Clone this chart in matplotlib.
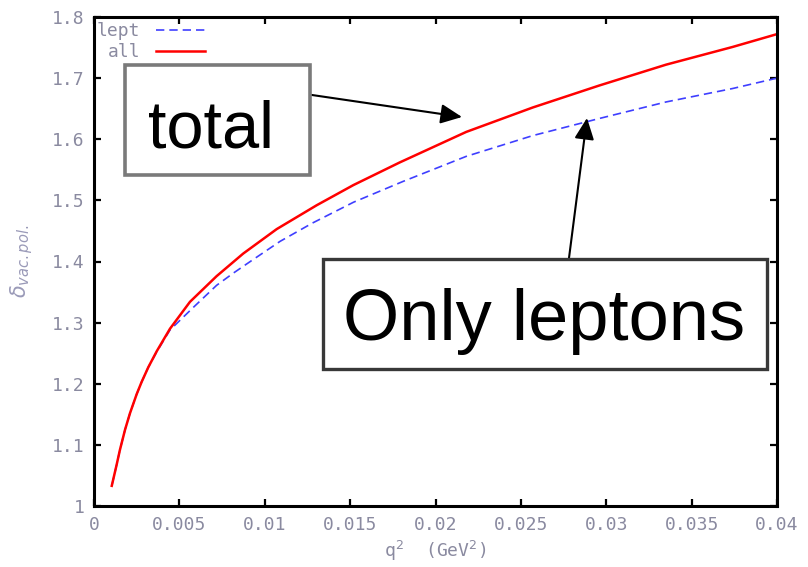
import numpy as np
import matplotlib
matplotlib.use('Agg')
import matplotlib.pyplot as plt
from matplotlib.patches import Rectangle

# vacuum polarisation correction vs q^2
q2_all = [0.00104, 0.00133, 0.00152, 0.00182, 0.00211, 0.0025, 0.00279, 0.00318, 0.00367,
          0.00445, 0.00562, 0.00718, 0.00874, 0.0107, 0.01304, 0.01519, 0.0179, 0.0218,
          0.0257, 0.0296, 0.0335, 0.0374, 0.0400]
d_all = [1.033, 1.068, 1.092, 1.125, 1.152, 1.183, 1.203, 1.227, 1.253,
         1.290, 1.334, 1.376, 1.413, 1.453, 1.492, 1.525, 1.562, 1.612,
         1.652, 1.688, 1.722, 1.751, 1.772]

q2_lept = [0.00104, 0.00133, 0.00152, 0.00182, 0.00211, 0.0025, 0.00279, 0.00318, 0.00367,
           0.00445, 0.00582, 0.00718, 0.00816, 0.0091, 0.0109, 0.0128, 0.0152, 0.0181,
           0.0218, 0.0257, 0.0296, 0.0335, 0.0374, 0.0400]
d_lept = [1.033, 1.068, 1.092, 1.125, 1.152, 1.183, 1.203, 1.227, 1.252,
          1.288, 1.325, 1.361, 1.381, 1.399, 1.433, 1.463, 1.497, 1.531,
          1.572, 1.606, 1.634, 1.661, 1.683, 1.700]

xticks = [0, 0.005, 0.01, 0.015, 0.02, 0.025, 0.03, 0.035, 0.04]
xticklabels = ['0', '0.005', '0.01', '0.015', '0.02', '0.025', '0.03', '0.035', '0.04']
yticks = [1, 1.1, 1.2, 1.3, 1.4, 1.5, 1.6, 1.7, 1.8]
yticklabels = ['1', '1.1', '1.2', '1.3', '1.4', '1.5', '1.6', '1.7', '1.8']

mono = 'DejaVu Sans Mono'
grey = '#8a8aa0'

fig = plt.figure(figsize=(8.08, 5.67), dpi=100)
ax = fig.add_axes([94/808, 1 - 506/567, (777-94)/808, (506-17)/567])

ax.plot(q2_lept, d_lept, color='#3f3fff', lw=1.2, dashes=(5, 3), label='lept')
ax.plot(q2_all, d_all, color='#ff0000', lw=1.8, label='all')

ax.set_xlim(0, 0.04)
ax.set_ylim(1, 1.8)
ax.set_xticks(xticks)
ax.set_xticklabels(xticklabels, family=mono, fontsize=13, color=grey)
ax.set_yticks(yticks)
ax.set_yticklabels(yticklabels, family=mono, fontsize=13, color=grey)
ax.tick_params(direction='in', length=5, width=1.6, top=True, right=True, pad=7)
for s in ax.spines.values():
    s.set_linewidth(2.2)

ax.set_xlabel(r'q$^2$  (GeV$^2$)', family=mono, fontsize=13, color=grey, labelpad=4)
ax.set_ylabel(r'$\delta_{vac.pol.}$', fontsize=15, color='#9a9ab8', labelpad=12)

leg = ax.legend(loc='upper left', bbox_to_anchor=(-0.02, 1.022), frameon=False,
                markerfirst=False, handlelength=2.7, handletextpad=0.9,
                labelspacing=0.15, prop={'family': mono, 'size': 13})
for t in leg.get_texts():
    t.set_color(grey)

# annotation boxes (figure pixel coordinates, origin bottom-left)
H = 567
fig.add_artist(Rectangle((125, H-175), 185, 110, transform=None, fill=True,
                         facecolor='white', edgecolor='#7a7a7a', lw=2.6))
fig.text(211/808, 1 - 147/567, 'total', fontsize=48, family='Liberation Sans',
         ha='center', va='baseline')
fig.add_artist(Rectangle((323, H-369), 444, 110, transform=None, fill=True,
                         facecolor='white', edgecolor='#383838', lw=2.4))
fig.text(544/808, 1 - 340/567, 'Only leptons', fontsize=52, family='Liberation Sans',
         ha='center', va='baseline')

ax.annotate('', xy=(462, H-117), xytext=(312, H-95), xycoords='figure pixels',
            textcoords='figure pixels',
            arrowprops=dict(arrowstyle='-|>,head_length=1.3,head_width=0.6',
                            color='black', lw=1.5, shrinkA=0, shrinkB=0))
ax.annotate('', xy=(587, H-118), xytext=(569, H-258), xycoords='figure pixels',
            textcoords='figure pixels',
            arrowprops=dict(arrowstyle='-|>,head_length=1.3,head_width=0.6',
                            color='black', lw=1.5, shrinkA=0, shrinkB=0))

fig.savefig('out.png', dpi=100)
